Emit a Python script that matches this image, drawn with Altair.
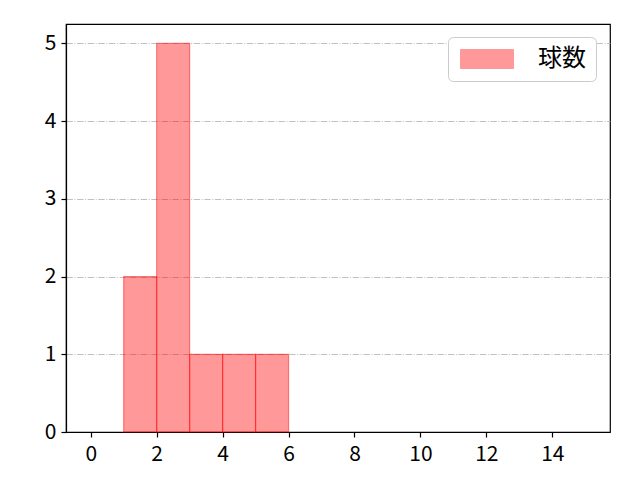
import altair as alt
import pandas as pd

bin_start = [1, 2, 3, 4, 5]
bin_end = [2, 3, 4, 5, 6]
counts = [2, 5, 1, 1, 1]
series = ["球数"] * 5
x_ticks = [0, 2, 4, 6, 8, 10, 12, 14]
y_ticks = [0, 1, 2, 3, 4, 5]

df = pd.DataFrame({"start": bin_start, "end": bin_end, "count": counts, "series": series})
FONT = "Noto Sans CJK JP"

bars = alt.Chart(df).mark_rect(
    fillOpacity=0.4, stroke="#ff0000", strokeOpacity=0.45, strokeWidth=1.2
).encode(
    x=alt.X("start:Q", scale=alt.Scale(domain=[-0.75, 15.75], nice=False, zero=False),
            axis=alt.Axis(values=x_ticks, grid=False, title=None, format="d", labelPadding=6)),
    x2="end:Q",
    y=alt.Y("count:Q", scale=alt.Scale(domain=[0, 5.25], nice=False),
            axis=alt.Axis(values=y_ticks, grid=True, gridColor="#b0b0b0", gridDash=[6.4, 1.6, 1, 1.6],
                          gridWidth=0.8, title=None, format="d", labelPadding=5)),
    y2=alt.datum(0),
    color=alt.Color("series:N", scale=alt.Scale(domain=["球数"], range=["#ff0000"]),
                    legend=alt.Legend(title=None, orient="none", legendX=382, legendY=13,
                                      symbolType="M-1,-1L4.58,-1L4.58,1L-1,1Z",
                                      symbolSize=361, symbolFillColor="#ff0000",
                                      symbolOpacity=0.4, symbolStrokeColor="#ff0000",
                                      symbolStrokeWidth=1,
                                      labelFont=FONT, labelFontSize=24, labelColor="#000000",
                                      labelOffset=56, padding=10,
                                      strokeColor="#cccccc", cornerRadius=5, fillColor="#ffffff")),
)

chart = bars.properties(
    width=544, height=408,
    autosize=alt.AutoSizeParams(type="none"),
    padding={"left": 58, "top": 16, "right": 22, "bottom": 40},
).configure(
    background="#ffffff"
).configure_view(
    stroke="#000000", strokeWidth=1.2
).configure_axis(
    labelFont=FONT, labelFontSize=21, labelColor="#000000",
    domainColor="#000000", domainWidth=1.2, tickColor="#000000", tickSize=5, tickWidth=1.2,
)

chart.save("out.html", embed_options={"renderer": "svg", "actions": False})
